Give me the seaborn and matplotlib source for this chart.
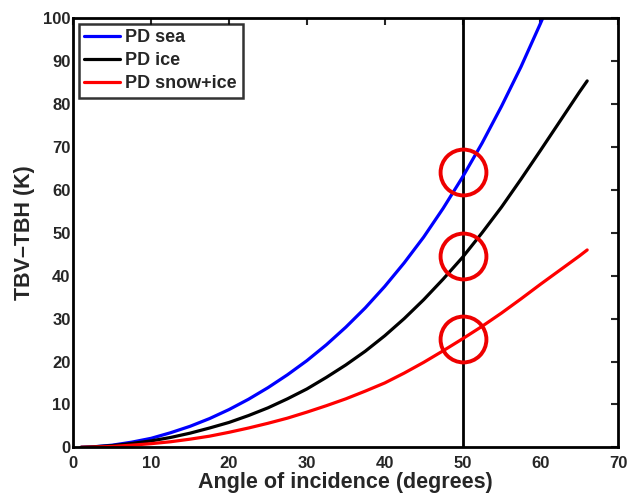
import numpy as np
import pandas as pd
import matplotlib
matplotlib.use("Agg")
import matplotlib.pyplot as plt
import seaborn as sns

# Data
angle = [1, 2.5, 5, 7.5, 10, 12.5, 15, 17.5, 20, 22.5, 25, 27.5, 30, 32.5, 35, 37.5,
         40, 42.5, 45, 47.5, 50, 52.5, 55, 57.5, 60, 61]
pd_sea = [0.0, 0.1, 0.5, 1.2, 2.1, 3.4, 4.9, 6.7, 8.8, 11.2, 13.9, 16.9, 20.2, 23.9, 28.0, 32.5,
          37.5, 43.0, 49.0, 55.7, 63.0, 70.9, 79.5, 88.7, 98.8, 103.0]

angle_ice = [1, 2.5, 5, 7.5, 10, 12.5, 15, 17.5, 20, 22.5, 25, 27.5, 30, 32.5, 35, 37.5,
             40, 42.5, 45, 47.5, 50, 52.5, 55, 57.5, 60, 62.5, 65, 66]
pd_ice = [0.0, 0.1, 0.4, 0.9, 1.5, 2.3, 3.3, 4.5, 5.8, 7.4, 9.2, 11.3, 13.6, 16.3, 19.2, 22.4,
          26.0, 30.0, 34.4, 39.2, 44.3, 50.0, 56.0, 62.5, 69.2, 76.0, 82.8, 85.4]
pd_snow_ice = [0.0, 0.05, 0.2, 0.5, 0.85, 1.3, 1.9, 2.6, 3.5, 4.5, 5.6, 6.8, 8.2, 9.7, 11.3, 13.1,
               15.0, 17.3, 19.8, 22.5, 25.3, 28.2, 31.3, 34.6, 38.0, 41.3, 44.6, 46.0]

series_names = ["PD sea", "PD ice", "PD snow+ice"]
colors = ["#0000ff", "#000000", "#ff0000"]

marker_x = [50, 50, 50]
marker_y = [64.1, 44.5, 25.3]
vline_x = 50

x_ticks = [0, 10, 20, 30, 40, 50, 60, 70]
y_ticks = [0, 10, 20, 30, 40, 50, 60, 70, 80, 90, 100]

df = pd.concat([
    pd.DataFrame({"angle": angle, "val": pd_sea, "series": series_names[0]}),
    pd.DataFrame({"angle": angle_ice, "val": pd_ice, "series": series_names[1]}),
    pd.DataFrame({"angle": angle_ice, "val": pd_snow_ice, "series": series_names[2]}),
])

sns.set_style("white")
plt.rcParams['font.family'] = ['Liberation Sans', 'DejaVu Sans']
plt.rcParams['font.weight'] = 'bold'

fig = plt.figure(figsize=(6.28, 4.94), dpi=100)
ax = fig.add_axes([0.1167, 0.0945, 0.9846 - 0.1167, 0.963 - 0.0945])

ax.axvline(vline_x, color="black", lw=2.0, zorder=1)

sns.lineplot(data=df, x="angle", y="val", hue="series", palette=dict(zip(series_names, colors)),
             hue_order=series_names, lw=2.3, ax=ax, sort=False, estimator=None, zorder=2)

ax.plot(marker_x, marker_y, linestyle="none", marker="o", markersize=33,
        markerfacecolor="none", markeredgecolor="#ee0000", markeredgewidth=2.8, zorder=3, clip_on=False)

ax.set_xlim(0, 70)
ax.set_ylim(0, 100)
ax.set_xticks(x_ticks)
ax.set_yticks(y_ticks)
ax.tick_params(direction="in", length=5, width=1.5, top=True, right=True,
               labelsize=12, pad=2)
ax.tick_params(axis="x", pad=6)
for lab in ax.get_xticklabels() + ax.get_yticklabels():
    lab.set_fontweight("bold")
for s in ax.spines.values():
    s.set_linewidth(2.0)
    s.set_color("black")

ax.set_xlabel("Angle of incidence (degrees)", fontsize=15.5, fontweight="bold", labelpad=1)
ax.set_ylabel("TBV\u2013TBH (K)", fontsize=15.5, fontweight="bold", labelpad=6)

leg = ax.legend(loc="upper left", fontsize=13, frameon=True, fancybox=False,
                borderpad=0.32, labelspacing=0.32, handlelength=1.95, handletextpad=0.3,
                borderaxespad=0.3)
leg.get_frame().set_edgecolor("black")
leg.get_frame().set_linewidth(1.8)
for t in leg.get_texts():
    t.set_fontweight("bold")
for l in leg.get_lines():
    l.set_linewidth(2.3)

fig.savefig("out.png", dpi=100)
